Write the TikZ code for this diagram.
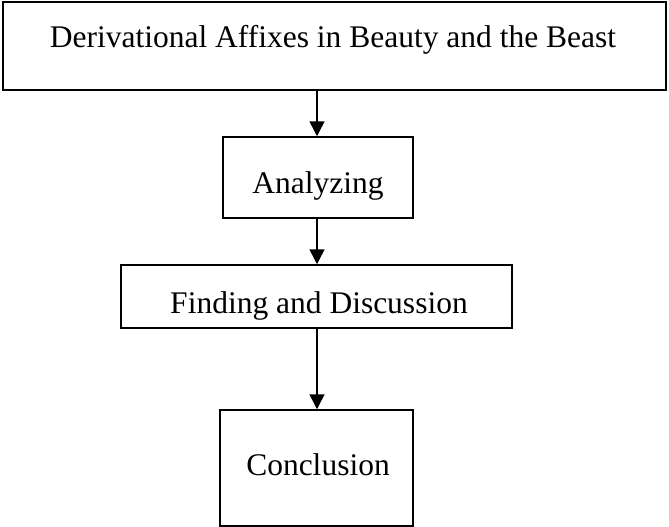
\documentclass[tikz,border=0pt]{standalone}
\usepackage{fontspec}
\setmainfont{Liberation Serif}
\usetikzlibrary{arrows.meta}
\begin{document}
\begin{tikzpicture}[x=1pt,y=-1pt,
  boxstyle/.style={draw=black,line width=1.5pt,inner sep=0pt},
  labelstyle/.style={font=\fontsize{31.5}{36}\selectfont,inner sep=0pt},
  arrowstyle/.style={line width=1.5pt,-{Triangle[length=15pt,width=15pt]}}]
\useasboundingbox (0,0) rectangle (669,527);
\fill[white] (0,0) rectangle (669,527);
\node[boxstyle,minimum width=663pt,minimum height=88pt] (b1) at (334.5,46) {};
\node[boxstyle,minimum width=190pt,minimum height=81pt] (b2) at (318,177.5) {};
\node[boxstyle,minimum width=391pt,minimum height=63pt] (b3) at (316.5,296.5) {};
\node[boxstyle,minimum width=193pt,minimum height=116pt] (b4) at (316.5,468) {};
\node[labelstyle] (t1) at (333,40) {Derivational Affixes in Beauty and the Beast};
\node[labelstyle] (t2) at (318,186) {Analyzing};
\node[labelstyle] (t3) at (319,306) {Finding and Discussion};
\node[labelstyle] (t4) at (318,465) {Conclusion};
\draw[arrowstyle] (b1.south -| 317,0) -- (b2.north -| 317,0);
\draw[arrowstyle] (b2.south -| 317,0) -- (b3.north -| 317,0);
\draw[arrowstyle] (b3.south -| 317,0) -- (b4.north -| 317,0);
\end{tikzpicture}
\end{document}
